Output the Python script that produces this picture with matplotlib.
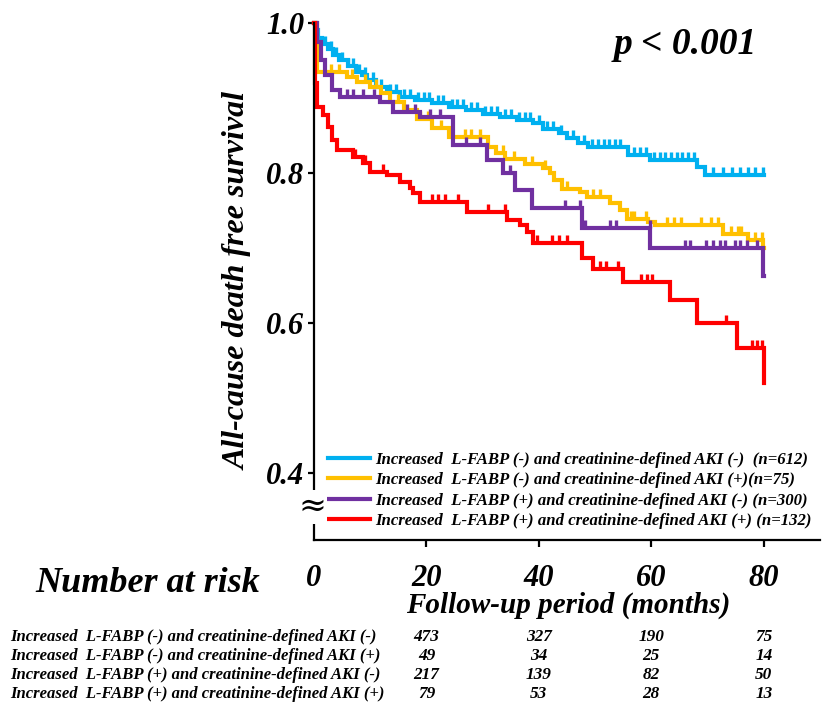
import numpy as np
import matplotlib
matplotlib.use("Agg")
import matplotlib.pyplot as plt
from matplotlib.lines import Line2D

# ---------------- data ----------------
blue_t = [0, 0.3, 0.8, 1.5, 2.5, 3.4, 4.5, 6, 7.5, 8.5, 9.4, 11, 13, 15.3, 18, 21, 24, 27, 30, 33,
          36.1, 39, 40.8, 43.5, 45, 47, 48.8, 55.9, 59.8, 68.1, 69.6]
blue_s = [1.0, 0.99, 0.98, 0.972, 0.965, 0.957, 0.95, 0.942, 0.935, 0.93, 0.924, 0.915, 0.908, 0.901,
          0.897, 0.893, 0.888, 0.884, 0.878, 0.874, 0.870, 0.866, 0.859, 0.853, 0.846, 0.840, 0.834,
          0.824, 0.817, 0.808, 0.797]
blue_c = [2, 3, 4, 5, 6, 7, 8, 9, 10.5, 12, 13.5, 14.5, 16, 17, 18.5, 19.5, 20.5, 22, 23, 24.5, 25.5,
          26.5, 28, 29, 30.5, 31.5, 32.5, 34, 35, 36.5, 37.5, 38.5, 40, 41.5, 42.5, 44, 46, 48, 49.5,
          50.5, 51.5, 52.5, 53.5, 54.5, 57, 58, 59, 60.5, 61.5, 62.5, 63.5, 64.5, 65.5, 66.5, 67.5,
          71, 72.8, 74.4, 75.8, 77.2, 78.5, 79.9]

orange_t = [0, 0.5, 5.9, 7.7, 10, 12, 13.5, 16, 18.3, 21, 24, 30.9, 32.4, 34, 37.5, 40.8, 42, 42.6,
            44.1, 47.3, 48.5, 52.7, 54.4, 55.7, 59.4, 60.7, 72.8, 77.2, 79.8]
orange_s = [1.0, 0.935, 0.928, 0.921, 0.915, 0.906, 0.895, 0.884, 0.872, 0.86, 0.848, 0.834, 0.826,
            0.818, 0.812, 0.806, 0.80, 0.79, 0.779, 0.774, 0.768, 0.76, 0.75, 0.739, 0.734, 0.73,
            0.719, 0.71, 0.70]
orange_c = [3, 4.5, 6.8, 9, 11, 15, 18.8, 20.3, 22.5, 26.9, 28, 29.5, 33.7, 35.5, 38.7, 41.1, 45,
            49.7, 50.8, 56.3, 56.9, 59, 62.8, 64, 65.2, 68.8, 70.6, 71.8, 74.2, 75.4, 76, 78.4, 79.6]

purple_t = [0, 0.5, 1.2, 2, 3.2, 4.6, 11.7, 14, 18.9, 24.7, 30.8, 33.6, 35.8, 38.8, 47.7, 59.8, 79.9]
purple_s = [1.0, 0.975, 0.95, 0.93, 0.91, 0.901, 0.894, 0.881, 0.875, 0.837, 0.817, 0.80, 0.777,
            0.753, 0.727, 0.70, 0.663]
purple_c = [5.8, 7, 8.8, 10.6, 16.5, 18, 20.6, 22.4, 27, 29.5, 34.9, 44.7, 47.3, 48.2, 52.6, 53.8,
            59.7, 66, 66.9, 69.8, 71, 72.2, 73.1, 74.9, 75.8, 77, 78.8]

red_t = [0, 0.15, 0.5, 1.6, 2.5, 3.2, 4.1, 7, 8.8, 10, 13, 15.3, 17, 17.6, 18.9, 27.2, 34.3, 36.7,
         37.9, 39, 47.7, 49.7, 55, 63.3, 68.1, 75.3, 80]
red_s = [1.0, 0.92, 0.888, 0.877, 0.861, 0.844, 0.83, 0.821, 0.813, 0.801, 0.797, 0.788, 0.78, 0.773,
         0.761, 0.748, 0.737, 0.73, 0.721, 0.706, 0.687, 0.672, 0.654, 0.63, 0.60, 0.566, 0.52]
red_c = [7.3, 9.1, 12.3, 20.9, 22.1, 23.3, 25.7, 31, 33.9, 39.6, 42.3, 43.5, 45, 50.8, 52, 54.1,
         58.1, 59.3, 60.2, 73.2, 77.9, 78.8, 79.7]

series_labels = [
    "Increased  L-FABP (-) and creatinine-defined AKI (-)  (n=612)",
    "Increased  L-FABP (-) and creatinine-defined AKI (+)(n=75)",
    "Increased  L-FABP (+) and creatinine-defined AKI (-) (n=300)",
    "Increased  L-FABP (+) and creatinine-defined AKI (+) (n=132)",
]
risk_labels = [
    "Increased  L-FABP (-) and creatinine-defined AKI (-)",
    "Increased  L-FABP (-) and creatinine-defined AKI (+)",
    "Increased  L-FABP (+) and creatinine-defined AKI (-)",
    "Increased  L-FABP (+) and creatinine-defined AKI (+)",
]
risk_times = [20, 40, 60, 80]
risk_blue = [473, 327, 190, 75]
risk_orange = [49, 34, 25, 14]
risk_purple = [217, 139, 82, 50]
risk_red = [79, 53, 28, 13]

x_ticks = [0, 20, 40, 60, 80]
y_ticks = [0.4, 0.6, 0.8, 1.0]

colors = ["#00B0F0", "#FFC000", "#7030A0", "#FF0000"]

# ---------------- figure ----------------
FONT = "Liberation Serif"
fig = plt.figure(figsize=(8.23, 7.06), dpi=100)
L, R, T, B = 314, 820, 23, 540
W, H = 823, 706
ax = fig.add_axes([L / W, 1 - B / H, (R - L) / W, (B - T) / H])
ax.set_xlim(0, 90)
ax.set_ylim(0.31, 1.0)

curves = [(blue_t, blue_s, blue_c), (orange_t, orange_s, orange_c),
          (purple_t, purple_s, purple_c), (red_t, red_s, red_c)]
end_t = 80
for (t, s, c), col in zip(curves, colors):
    tt = list(t) + [end_t]
    ss = list(s) + [s[-1]]
    ax.step(tt, ss, where="post", color=col, lw=3.0, clip_on=False, solid_joinstyle="miter")
    ta = np.array(t)
    idx = np.searchsorted(ta, np.array(c), side="right") - 1
    cy = np.array(s)[idx]
    ax.plot(c, cy, linestyle="none", marker=2, markersize=5.5, markeredgewidth=2.4,
            color=col, clip_on=False)

for sp in ["top", "right"]:
    ax.spines[sp].set_visible(False)
for sp in ["left", "bottom"]:
    ax.spines[sp].set_linewidth(1.6)

ax.set_xticks(x_ticks)
ax.set_xticklabels([str(v) for v in x_ticks])
ax.set_yticks(y_ticks)
ax.set_yticklabels([f"{v:.1f}" for v in y_ticks])
ax.tick_params(axis="x", length=5, width=1.6, pad=12)
ax.tick_params(axis="y", length=4, width=1.6, pad=3)
ax.xaxis.get_major_ticks()[0].tick1line.set_visible(False)
for lab in ax.get_xticklabels() + ax.get_yticklabels():
    lab.set_fontfamily(FONT)
    lab.set_fontstyle("italic")
    lab.set_fontweight("bold")
    lab.set_fontsize(22)

fp = dict(family=FONT, style="italic", weight="bold")
ax.set_ylabel("All-cause death free survival", fontsize=23, labelpad=10, **fp)

# axis break
fig.text(312 / W, 1 - 507 / H, "≈", ha="center", va="center", fontsize=24,
         family="DejaVu Serif", rotation=0,
         bbox=dict(facecolor="white", edgecolor="none", pad=0.5))

fig.text(685 / W, 1 - 45 / H, "p < 0.001", ha="center", va="center", fontsize=27, **fp)

handles = [Line2D([0], [0], color=c, lw=3.0) for c in colors]
leg = ax.legend(handles, series_labels, loc="upper left",
                bbox_to_anchor=(328 / W, 1 - 452 / H), bbox_transform=fig.transFigure,
                frameon=False, handlelength=2.5, handletextpad=0.3, labelspacing=0.26,
                borderpad=0, borderaxespad=0,
                prop=dict(family=FONT, style="italic", weight="bold", size=12.1))

fig.text(148 / W, 1 - 583 / H, "Number at risk", ha="center", va="center", fontsize=26, **fp)
fig.text(568 / W, 1 - 605 / H, "Follow-up period (months)", ha="center", va="center",
         fontsize=21, **fp)

rows_y = [637, 656, 675, 694]
risk_rows = [risk_blue, risk_orange, risk_purple, risk_red]
for lab, yy, vals in zip(risk_labels, rows_y, risk_rows):
    fig.text(10 / W, 1 - yy / H, lab, ha="left", va="center", fontsize=12.0, **fp)
    for tx, v in zip(risk_times, vals):
        xp = ax.transData.transform((tx, 0.5))[0] / fig.dpi / fig.get_figwidth()
        fig.text(xp, 1 - yy / H, str(v), ha="center", va="center", fontsize=12.4, **fp)

fig.savefig("out.png", dpi=100)
